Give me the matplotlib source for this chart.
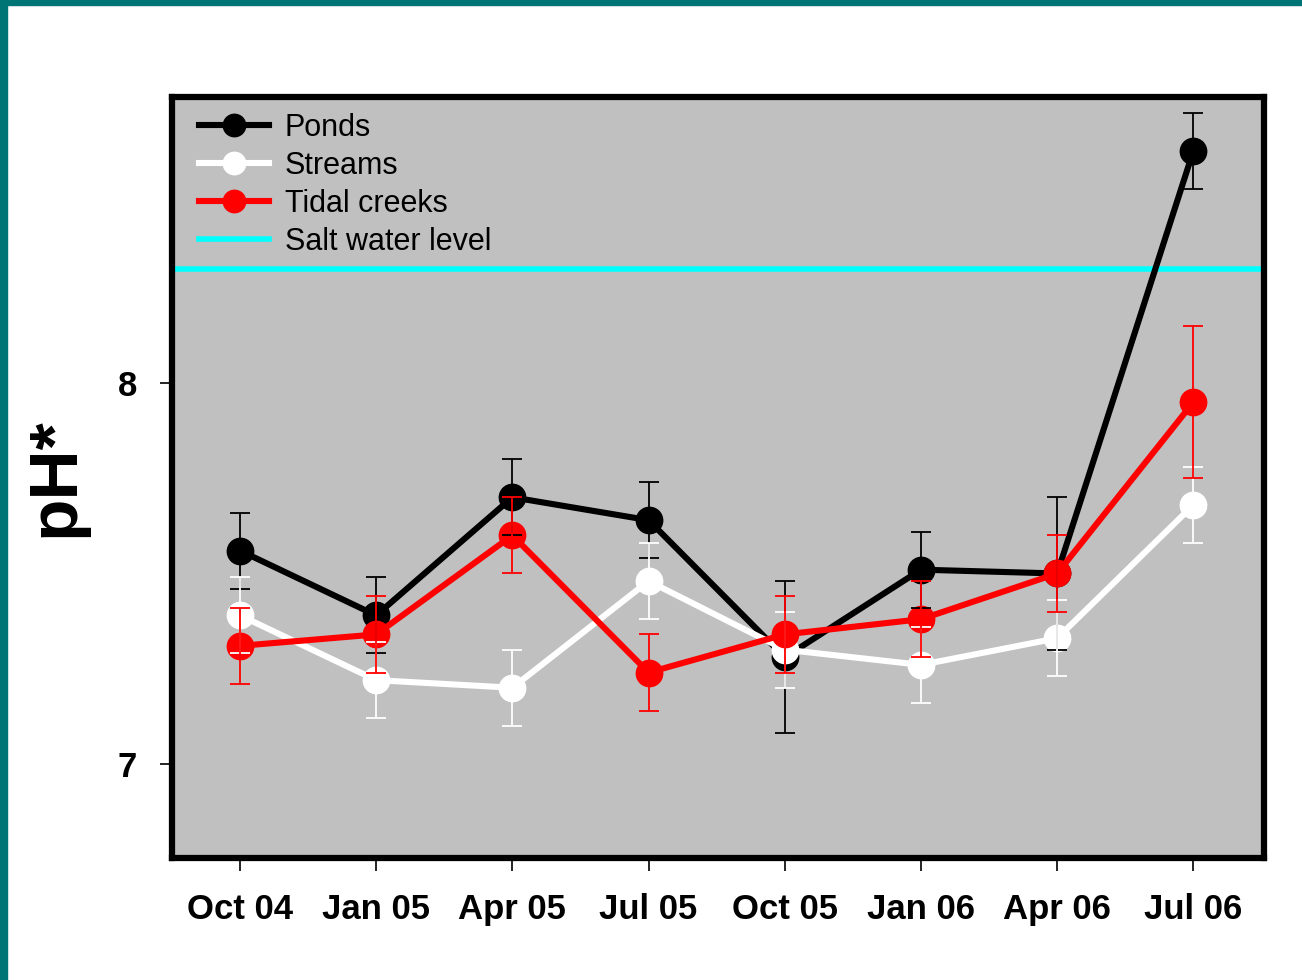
import numpy as np
import matplotlib.pyplot as plt
from matplotlib.patches import Rectangle

plt.rcParams['font.family'] = ['Liberation Sans', 'DejaVu Sans']

dates = ['Oct 04', 'Jan 05', 'Apr 05', 'Jul 05', 'Oct 05', 'Jan 06', 'Apr 06', 'Jul 06']

ponds = [7.56, 7.39, 7.70, 7.64, 7.28, 7.51, 7.50, 8.61]
ponds_err = [0.10, 0.10, 0.10, 0.10, 0.20, 0.10, 0.20, 0.10]

streams = [7.39, 7.22, 7.20, 7.48, 7.30, 7.26, 7.33, 7.68]
streams_err = [0.10, 0.10, 0.10, 0.10, 0.10, 0.10, 0.10, 0.10]

tidal = [7.31, 7.34, 7.60, 7.24, 7.34, 7.38, 7.50, 7.95]
tidal_err = [0.10, 0.10, 0.10, 0.10, 0.10, 0.10, 0.10, 0.20]

salt_level = 8.30

fig = plt.figure(figsize=(13.02, 9.8), dpi=100)
ax = fig.add_axes([0.132, 0.1245, 0.839, 0.7765])
ax.set_facecolor('#c0c0c0')

# teal frame on left/top edges
fig.patches.append(Rectangle((0, 0), 7 / 1302, 1, transform=fig.transFigure,
                             color='#007575', zorder=10))
fig.patches.append(Rectangle((0, 1 - 5 / 980), 1, 5 / 980, transform=fig.transFigure,
                             color='#007575', zorder=10))

x = np.arange(len(dates))
series = [(ponds, ponds_err, 'black', 'Ponds'),
          (streams, streams_err, 'white', 'Streams'),
          (tidal, tidal_err, 'red', 'Tidal creeks')]

for i, (vals, err, c, lab) in enumerate(series):
    ax.plot(x, vals, color=c, lw=4.4, marker='o', ms=19, label=lab, zorder=3 + i)
for vals, err, c, lab in series:
    ax.errorbar(x, vals, yerr=err, fmt='none', ecolor=c, elinewidth=1.3,
                capsize=7, capthick=1.3, zorder=7)

ax.axhline(salt_level, color='cyan', lw=4, label='Salt water level', zorder=2)

ax.set_xlim(-0.5, 7.52)
ax.set_ylim(6.753, 8.751)
ax.set_xticks(x)
ax.set_xticklabels(dates, fontsize=25, fontweight='bold')
ax.set_yticks([7, 8])
ax.set_yticklabels(['7', '8'], fontsize=25, fontweight='bold')
ax.tick_params(direction='out', length=9, width=1.2, pad=16)
ax.tick_params(axis='x', pad=16)
ax.set_ylabel('pH*', fontsize=50, fontweight='bold', labelpad=22)

for sp in ax.spines.values():
    sp.set_linewidth(4.5)
    sp.set_joinstyle('round')

ax.legend(loc='upper left', bbox_to_anchor=(0.0165, 0.991), frameon=False,
          fontsize=22, handlelength=2.3, handletextpad=0.5, labelspacing=0.26,
          borderaxespad=0, borderpad=0.3, markerscale=0.85)

fig.savefig('out.png', dpi=100)
